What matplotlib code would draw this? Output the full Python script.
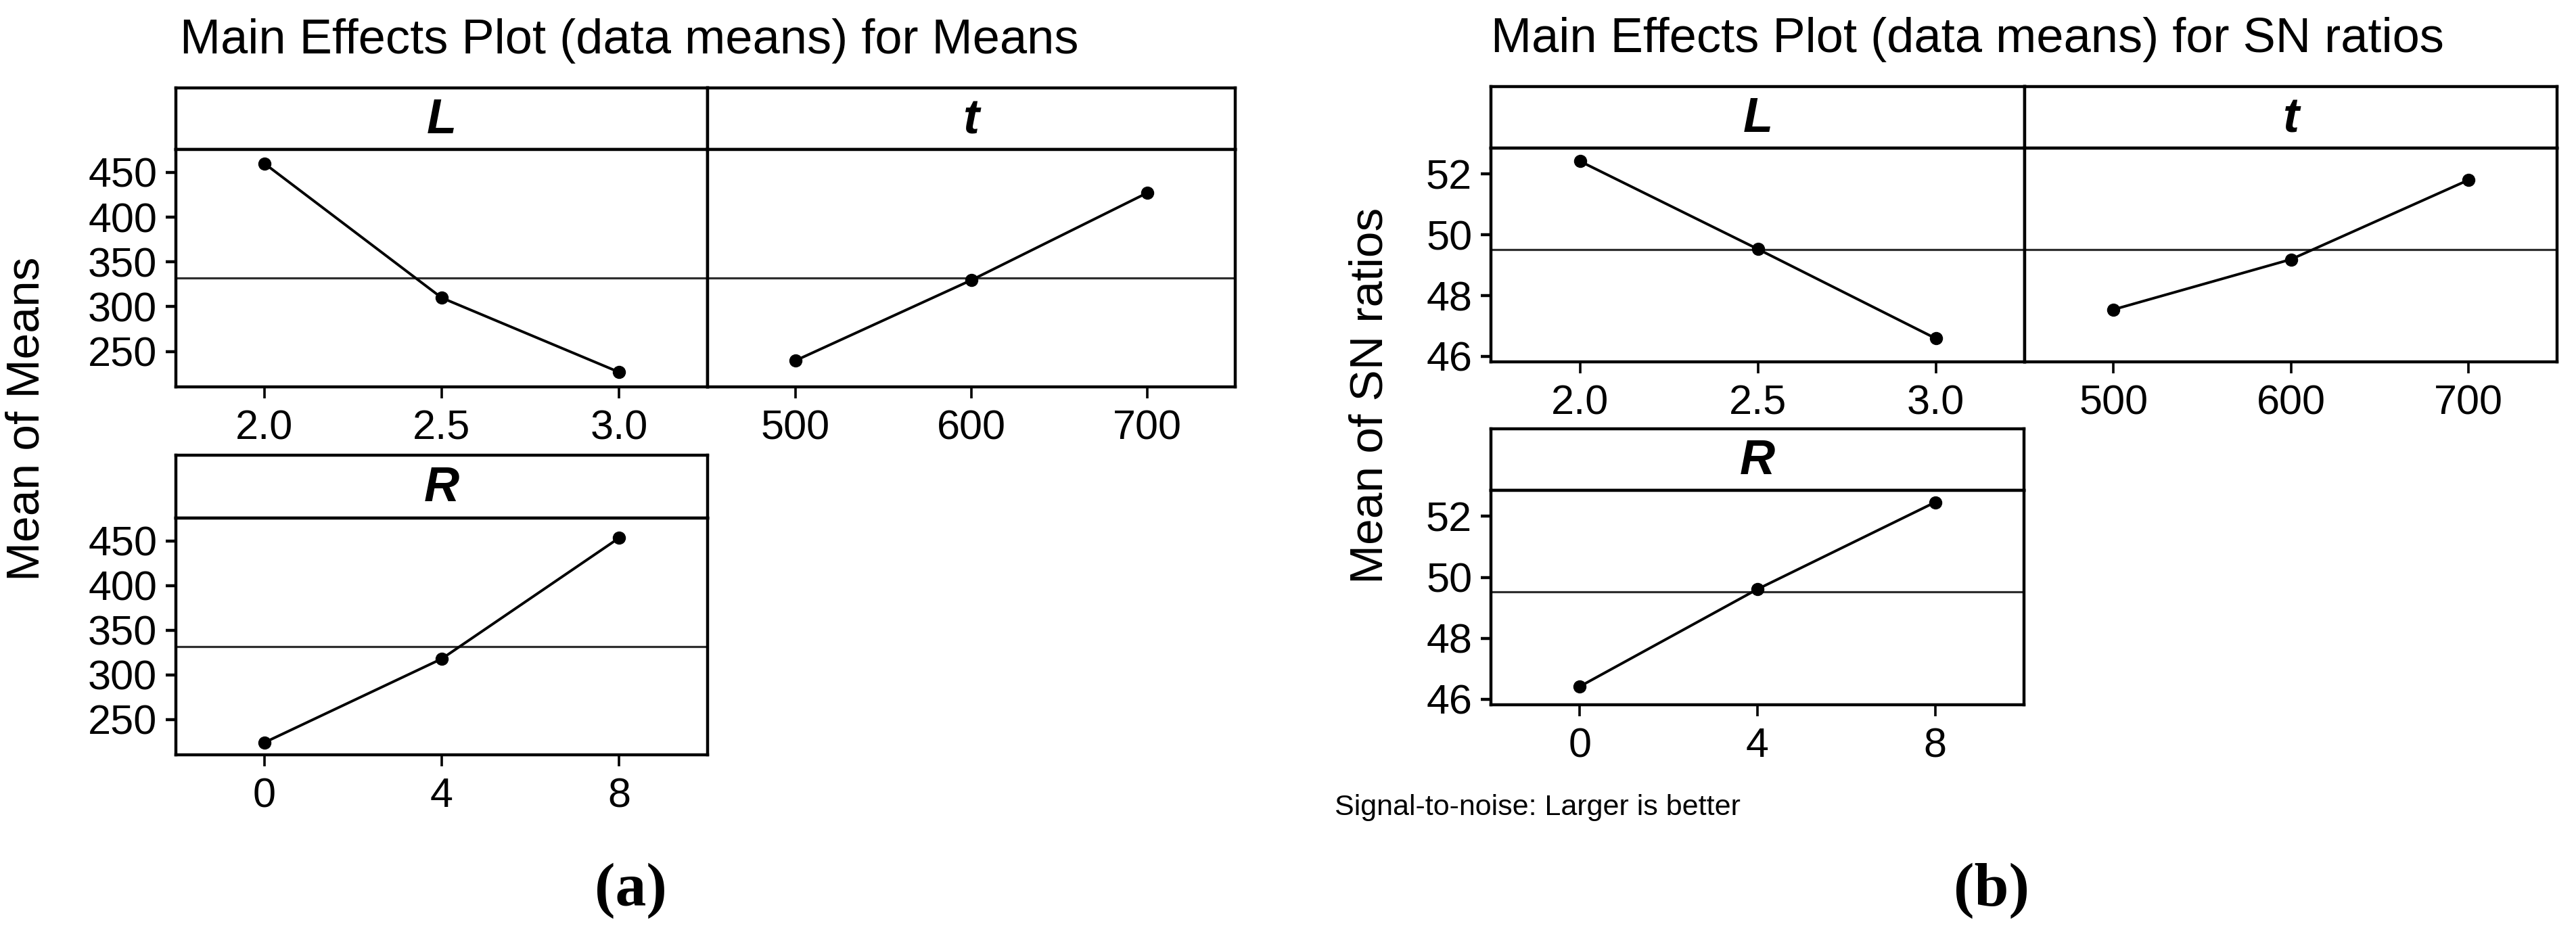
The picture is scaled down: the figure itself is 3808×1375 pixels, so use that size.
import matplotlib
matplotlib.use("Agg")
import matplotlib.pyplot as plt
from matplotlib import font_manager

# data
L_levels = [2.0, 2.5, 3.0]
t_levels = [500, 600, 700]
R_levels = [0, 4, 8]
L_labels = ["2.0", "2.5", "3.0"]
t_labels = ["500", "600", "700"]
R_labels = ["0", "4", "8"]

means_L = [459.8, 309.9, 227.0]
means_t = [239.9, 329.7, 427.1]
means_R = [224.3, 318.0, 453.2]
means_grand = 332.0
means_yticks = [250, 300, 350, 400, 450]

sn_L = [52.42, 49.53, 46.59]
sn_t = [47.54, 49.19, 51.80]
sn_R = [46.42, 49.61, 52.46]
sn_grand = 49.52
sn_yticks = [46, 48, 50, 52]

avail = {f.name for f in font_manager.fontManager.ttflist}
SANS = "DejaVu Sans Condensed" if "DejaVu Sans Condensed" in avail else "Liberation Sans"
plt.rcParams["font.family"] = [SANS, "DejaVu Sans"]

W, H = 3808, 1375
fig = plt.figure(figsize=(W / 100, H / 100), dpi=100)
LW = 3.2


def box(l, t, r, b):
    return fig.add_axes([l / W, 1 - b / H, (r - l) / W, (b - t) / H])


def panel(x0, x1, top, hb, bot, name, xs, ys, xlabels, xlim, ylim, yticks, grand, show_y):
    hax = box(x0, top, x1, hb)
    hax.set_xticks([])
    hax.set_yticks([])
    for s in hax.spines.values():
        s.set_linewidth(LW)
    hax.text(0.5, 0.47, name, ha="center", va="center", fontsize=52,
             style="italic", weight="bold", transform=hax.transAxes)

    ax = box(x0, hb, x1, bot)
    for s in ax.spines.values():
        s.set_linewidth(LW)
    ax.axhline(grand, color="#2e2e2e", lw=2.3, zorder=1)
    ax.plot(xs, ys, color="k", lw=2.8, marker="o", ms=13, zorder=3)
    ax.set_xlim(xlim)
    ax.set_ylim(ylim)
    ax.set_xticks(xs)
    ax.set_xticklabels(xlabels)
    ax.tick_params(axis="x", length=12, width=2.6, pad=12, labelsize=44)
    if show_y:
        ax.set_yticks(yticks)
        ax.tick_params(axis="y", length=11, width=3.2, pad=9, labelsize=44)
    else:
        ax.set_yticks([])
    return ax


# (a) means
ylim_a = (210.5, 475.5)
panel(260, 1046, 130, 221, 572, "L", L_levels, means_L, L_labels, (1.75, 3.25), ylim_a, means_yticks, means_grand, True)
panel(1046, 1826, 130, 221, 572, "t", t_levels, means_t, t_labels, (450, 750), ylim_a, means_yticks, means_grand, False)
panel(260, 1046, 673, 766, 1116, "R", R_levels, means_R, R_labels, (-2, 10), ylim_a, means_yticks, means_grand, True)

# (b) SN ratios
ylim_b = (45.82, 52.85)
panel(2204, 2993, 128, 219, 535, "L", L_levels, sn_L, L_labels, (1.75, 3.25), ylim_b, sn_yticks, sn_grand, True)
panel(2993, 3780, 128, 219, 535, "t", t_levels, sn_t, t_labels, (450, 750), ylim_b, sn_yticks, sn_grand, False)
panel(2204, 2992, 634, 725, 1042, "R", R_levels, sn_R, R_labels, (-2, 10), ylim_b, sn_yticks, sn_grand, True)

fig.text(266 / W, 1 - 79 / H, "Main Effects Plot (data means) for Means", fontsize=52,
         ha="left", va="baseline")
fig.text(2204 / W, 1 - 77 / H, "Main Effects Plot (data means) for SN ratios", fontsize=52,
         ha="left", va="baseline")
fig.text(40 / W, 1 - 619 / H, "Mean of Means", fontsize=50, rotation=90,
         ha="center", va="center")
fig.text(2025 / W, 1 - 585 / H, "Mean of SN ratios", fontsize=50, rotation=90,
         ha="center", va="center")
fig.text(1973 / W, 1 - 1205 / H, "Signal-to-noise: Larger is better", fontsize=31,
         ha="left", va="baseline")

fig.text(932 / W, 1 - 1317 / H, "(a)", fontsize=66, family="Liberation Serif",
         weight="bold", ha="center", va="center")
fig.text(2944 / W, 1 - 1317 / H, "(b)", fontsize=66, family="Liberation Serif",
         weight="bold", ha="center", va="center")

fig.savefig("out.png", dpi=100)
